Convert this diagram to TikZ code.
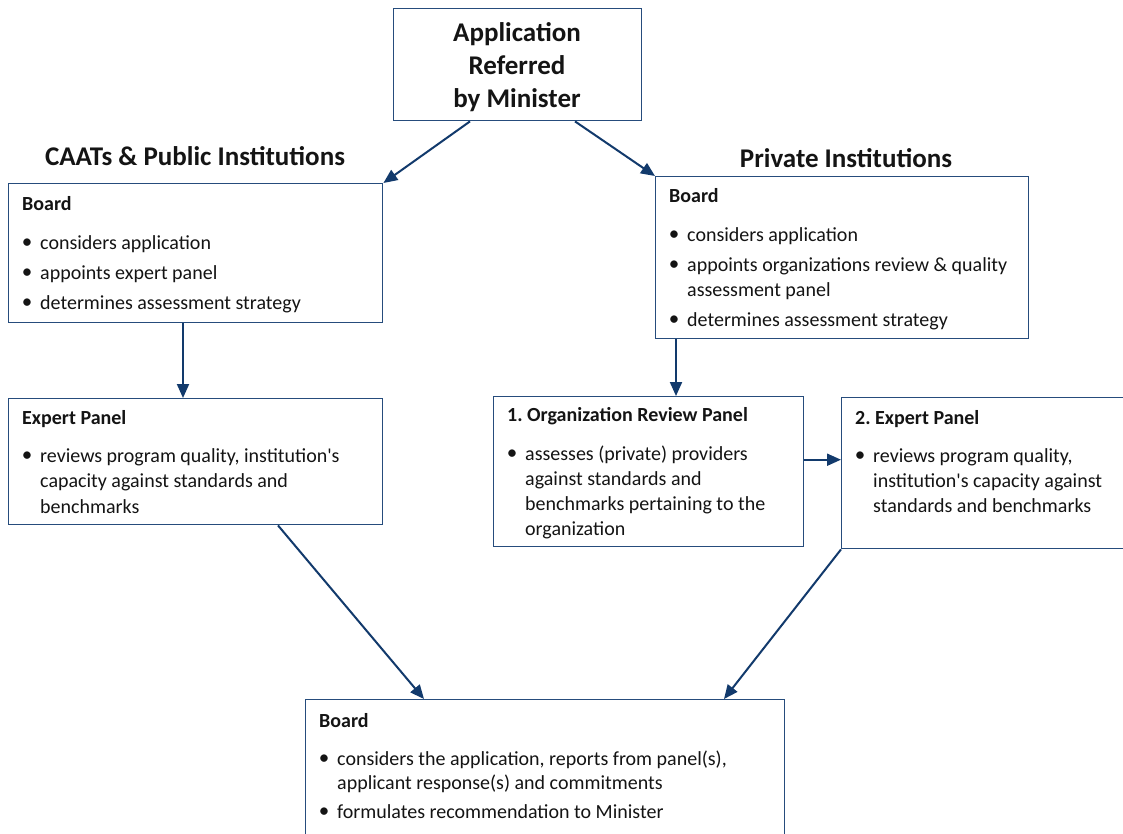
\documentclass[tikz,border=0pt]{standalone}
\usepackage{fontspec}
\setmainfont{Carlito}
\usetikzlibrary{arrows.meta,calc}
\definecolor{boxc}{RGB}{38,76,124}
\definecolor{arrc}{RGB}{18,58,108}
\definecolor{txtc}{RGB}{20,20,20}
\frenchspacing
\begin{document}
\begin{tikzpicture}[x=1pt,y=-1pt,
 box/.style={draw=boxc,line width=1.4pt,fill=white,inner sep=0pt,anchor=north west},
 arr/.style={draw=arrc,line width=2pt,-{Triangle[length=14pt,width=12pt]}},
 ttl/.style={font=\fontsize{27}{32}\selectfont\bfseries,anchor=base,inner sep=0pt,text=txtc},
 hd/.style={font=\fontsize{20}{24}\selectfont\bfseries,anchor=base west,inner sep=0pt,text=txtc},
 tx/.style={font=\fontsize{20}{24}\selectfont,anchor=base west,inner sep=0pt,text=txtc},
 bl/.style={font=\fontsize{21}{24}\selectfont,anchor=base,inner sep=0pt,text=txtc}]
\useasboundingbox[fill=white] (0,0) rectangle (1123,833);

% boxes
\node[box,minimum width=248pt,minimum height=112pt] (top) at (393,8) {};
\node[box,minimum width=374pt,minimum height=139pt] (lb) at (8,183) {};
\node[box,minimum width=373pt,minimum height=162pt] (rb) at (655,176) {};
\node[box,minimum width=374pt,minimum height=126pt] (le) at (8,398) {};
\node[box,minimum width=310pt,minimum height=150pt] (org) at (493,396) {};
\node[box,minimum width=300pt,minimum height=151pt] (ex2) at (841,397) {};
\node[box,minimum width=479pt,minimum height=150pt] (bb) at (305,699) {};

% top text
\node[ttl] (t1) at (517,41) {Application};
\node[ttl] (t2) at (517,74) {Referred};
\node[ttl] (t3) at (517,107) {by Minister};

% headers
\node[ttl] (h1) at (195,165) {CAATs \& Public Institutions};
\node[ttl] (h2) at (846,167) {Private Institutions};

% left board
\node[hd] (lbt) at (22,210) {Board};
\node[bl] (lbb1) at (27,248) {•};
\node[tx] (lbl1) at (40,249) {considers application};
\node[bl] (lbb2) at (27,278) {•};
\node[tx] (lbl2) at (40,279) {appoints expert panel};
\node[bl] (lbb3) at (27,308) {•};
\node[tx] (lbl3) at (40,309) {determines assessment strategy};

% right board
\node[hd] (rbt) at (669,202) {Board};
\node[bl] (rbb1) at (674,240) {•};
\node[tx] (rbl1) at (687,241) {considers application};
\node[bl] (rbb2) at (674,270) {•};
\node[tx] (rbl2) at (687,271) {appoints organizations review \& quality};
\node[tx] (rbl2b) at (687,296) {assessment panel};
\node[bl] (rbb3) at (674,325) {•};
\node[tx] (rbl3) at (687,326) {determines assessment strategy};

% left expert panel
\node[hd] (let) at (22,424) {Expert Panel};
\node[bl] (leb1) at (27,461) {•};
\node[tx] (lel1) at (40,462) {reviews program quality, institution\textquotesingle s};
\node[tx] (lel2) at (40,487) {capacity against standards and};
\node[tx] (lel3) at (40,513) {benchmarks};

% organization review panel
\node[hd] (orgt) at (507,421) {1. Organization Review Panel};
\node[bl] (orgb1) at (512,459) {•};
\node[tx] (orgl1) at (525,460) {assesses (private) providers};
\node[tx] (orgl2) at (525,485) {against standards and};
\node[tx] (orgl3) at (525,510) {benchmarks pertaining to the};
\node[tx] (orgl4) at (525,535) {organization};

% expert panel 2
\node[hd] (ex2t) at (855,424) {2. Expert Panel};
\node[bl] (ex2b1) at (860,461) {•};
\node[tx] (ex2l1) at (873,462) {reviews program quality,};
\node[tx] (ex2l2) at (873,487) {institution\textquotesingle s capacity against};
\node[tx] (ex2l3) at (873,512) {standards and benchmarks};

% bottom board
\node[hd] (bbt) at (319,727) {Board};
\node[bl] (bbb1) at (324,764) {•};
\node[tx] (bbl1) at (337,765) {considers the application, reports from panel(s),};
\node[tx] (bbl2) at (337,789) {applicant response(s) and commitments};
\node[bl] (bbb2) at (324,817) {•};
\node[tx] (bbl3) at (337,818) {formulates recommendation to Minister};

% connectors
\draw[arr] ([xshift=77pt]top.south west) -- (lb.north east);
\draw[arr] ([xshift=182pt]top.south west) -- (rb.north west);
\draw[arr] ([xshift=175pt]lb.south west) -- ([xshift=175pt]le.north west);
\draw[arr] ([xshift=21pt]rb.south west) -- ([xshift=183pt]org.north west);
\coordinate (oe) at ([yshift=12pt]org.east);
\draw[arr] (oe) -- (oe -| ex2.west);
\draw[arr] ([xshift=270pt]le.south west) -- ([xshift=119pt]bb.north west);
\draw[arr] (ex2.south west) -- ([xshift=419pt]bb.north west);
\end{tikzpicture}
\end{document}
